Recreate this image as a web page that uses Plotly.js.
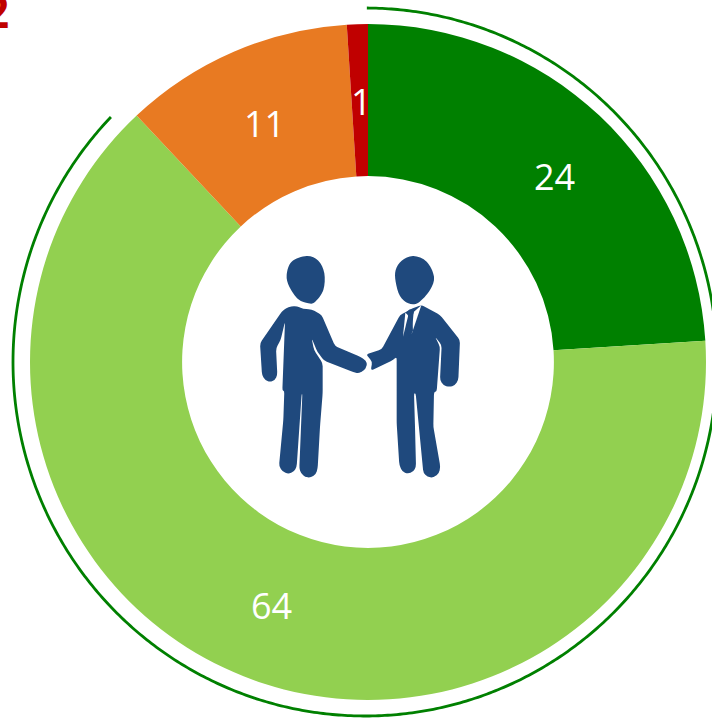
<!DOCTYPE html>
<html><head><meta charset="utf-8">
<script src="https://cdn.plot.ly/plotly-3.0.1.min.js"></script>
<style>html,body{margin:0;padding:0;background:#fff;overflow:hidden}#c{width:712px;height:718px}</style>
</head><body><div id="c"></div>
<script>
const categories = ['A','B','C','D'];
const values = [24, 64, 11, 1];
const colors = ['#008000', '#92D050', '#E87A22', '#C00000'];
const W = 712, H = 718;
const cx = 368, cy = 362, R = 338, midR = 262;
const labelNudge = [[7,5],[0,0],[1,2],[2,1]];

const px = x => x / W, py = y => 1 - y / H;
const total = values.reduce((a, b) => a + b, 0);
let acc = 0;
const annotations = values.map((v, i) => {
  const a = (acc + v / 2) / total * 2 * Math.PI; acc += v;
  return {xref:'paper', yref:'paper', showarrow:false,
    x: px(cx + midR * Math.sin(a) + labelNudge[i][0]),
    y: py(cy - midR * Math.cos(a) + labelNudge[i][1]),
    xanchor:'center', yanchor:'middle', text:String(v),
    font:{family:'Open Sans', size:36, color:'#fff'}};
});
annotations.push({xref:'paper', yref:'paper', showarrow:false, x:px(11), y:py(43),
  xanchor:'right', yanchor:'bottom', text:'<b>2</b>',
  font:{family:'Open Sans', size:44, color:'#C00000'}});

const toPage = p => (px(p[0]).toFixed(5) + ',' + py(p[1]).toFixed(5));

// Outer ring arc
const arcFull = [];
for (let t = 0.3; t <= 313.9; t += 0.5) {
  const r = t * Math.PI / 180;
  arcFull.push([365 + 352 * Math.sin(r), 362 - 354 * Math.cos(r)]);
}
const arcPath = 'M' + arcFull.map(toPage).join('L');

// Icon outlines traced in a 3x grid anchored at (240,240)
const z = p => [240 + p[0] / 3, 240 + p[1] / 3];
const poly = pts => 'M' + pts.map(p => toPage(z(p))).join('L') + 'Z';
const rounded = (pts, rad) => {
  const n = pts.length, P = pts.map(z);
  const toward = (a, b, d) => {
    const L = Math.hypot(b[0]-a[0], b[1]-a[1]), k = Math.min(d, L / 2) / (L || 1);
    return [a[0] + (b[0]-a[0]) * k, a[1] + (b[1]-a[1]) * k];
  };
  let d = '';
  for (let i = 0; i < n; i++) {
    const p = P[i], prev = P[(i-1+n)%n], next = P[(i+1)%n];
    const a = toward(p, prev, rad), b = toward(p, next, rad);
    d += (i ? 'L' : 'M') + toPage(a) + 'Q' + toPage(p) + ' ' + toPage(b);
  }
  return d + 'Z';
};
const smooth = pts => {
  const n = pts.length, P = pts.map(z);
  let d = 'M' + toPage(P[0]);
  for (let i = 0; i < n; i++) {
    const p0 = P[(i - 1 + n) % n], p1 = P[i], p2 = P[(i + 1) % n], p3 = P[(i + 2) % n];
    const c1 = [p1[0] + (p2[0] - p0[0]) / 6, p1[1] + (p2[1] - p0[1]) / 6];
    const c2 = [p2[0] - (p3[0] - p1[0]) / 6, p2[1] - (p3[1] - p1[1]) / 6];
    d += 'C' + toPage(c1) + ' ' + toPage(c2) + ' ' + toPage(p2);
  }
  return d + 'Z';
};
const headL = [[200,48],[235,62],[253,100],[250,150],[225,186],[205,190],[175,178],[148,140],[140,105],[155,65]];
const headR = [[520,48],[560,65],[582,110],[570,150],[535,188],[505,190],[480,168],[467,125],[467,90],[485,62]];
const bodyL = [[170,198],[190,207],[215,208],[245,225],[285,318],[360,350],[378,362],[382,376],[372,392],[355,400],[340,396],[252,362],[232,335],[215,295],[222,330],[248,370],[248,460],[240,560],[233,685],[228,702],[212,713],[195,711],[182,698],[178,685],[187,462],[185,462],[170,680],[162,695],[145,702],[128,695],[117,678],[130,540],[133,452],[127,452],[135,245],[122,300],[108,325],[112,405],[105,420],[90,426],[75,420],[66,405],[60,310],[125,215],[145,200]];
const bodyR = [[378,343],[425,328],[480,225],[495,218],[510,208],[545,195],[600,225],[660,300],[655,420],[645,436],[628,441],[610,436],[600,420],[605,315],[585,290],[600,320],[590,455],[582,455],[580,560],[601,680],[597,700],[580,713],[562,711],[550,698],[527,460],[522,460],[525,560],[528,680],[520,696],[503,701],[487,695],[478,675],[470,550],[470,350],[460,360],[392,392],[397,365]];
const shirtA = [[496,218],[489,290],[505,226]];
const shirtB = [[521,216],[515,282],[544,196]];
const tie = [[501,215],[510,208],[522,215],[516,232],[519,272],[507,292],[501,272],[505,232]];

const fillShape = (path, col) => ({type:'path', xref:'paper', yref:'paper', path, fillcolor:col, line:{width:0}, layer:'above'});
const navy = '#1F497D';
const shapes = [
  {type:'path', xref:'paper', yref:'paper', path:arcPath, line:{color:'#008000', width:2.8}, fillcolor:'rgba(0,0,0,0)'},
  fillShape(smooth(headL), navy), fillShape(smooth(headR), navy),
  fillShape(rounded(bodyL, 3), navy), fillShape(rounded(bodyR, 3), navy),
  fillShape(poly(shirtA), '#fff'), fillShape(poly(shirtB), '#fff'),
  fillShape(poly(tie), navy)
];

Plotly.newPlot('c', [{
  type:'pie', labels:categories, values, sort:false, direction:'clockwise', rotation:0, hole:0.55,
  marker:{colors, line:{width:0}}, textinfo:'none', hoverinfo:'label+value', showlegend:false,
  domain:{x:[(cx-R)/W,(cx+R)/W], y:[1-(cy+R)/H,1-(cy-R)/H]}
}], {
  width:W, height:H, margin:{l:0,r:0,t:0,b:0}, paper_bgcolor:'#fff', showlegend:false,
  annotations, shapes
}, {displayModeBar:false, responsive:false});
</script></body></html>
